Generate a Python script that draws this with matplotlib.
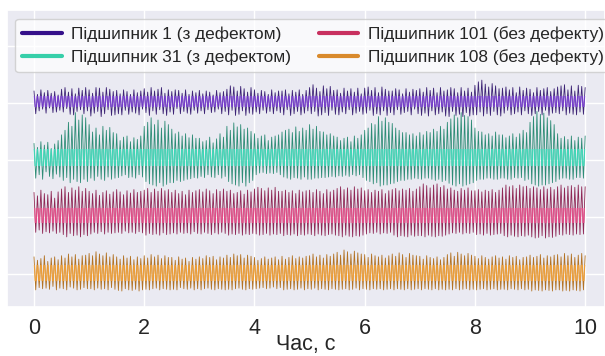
import numpy as np
import matplotlib
matplotlib.use("Agg")
import matplotlib.pyplot as plt
from matplotlib.lines import Line2D
from matplotlib.patches import Rectangle
import seaborn as sns

labels = ["Підшипник 1 (з дефектом)", "Підшипник 31 (з дефектом)",
          "Підшипник 101 (без дефекту)", "Підшипник 108 (без дефекту)"]

xticks = [0, 2, 4, 6, 8, 10]
duration = 10
unit = 0.01  # values below are in hundredths of one vertical grid step

bearing_1 = [
    18, -22, 12, -17, 20, -14, 15, -21, 19, -12, 14, -20, 17, -19, 11, -16,
    21, -19, 24, -13, 16, -23, 22, -24, 13, -18, 23, -15, 19, -22, 24, -17,
    20, -26, 14, -21, 24, -18, 23, -27, 16, -22, 24, -15, 21, -25, 17, -24,
    19, -22, 13, -24, 20, -16, 17, -23, 12, -19, 20, -21, 15, -24, 18, -14,
    22, -20, 16, -25, 24, -17, 18, -23, 21, -15, 24, -22, 14, -25, 20, -19,
    17, -23, 20, -13, 19, -22, 14, -18, 20, -21, 12, -23, 18, -16, 15, -21,
    19, -17, 13, -22, 18, -15, 16, -20, 11, -19, 19, -14, 15, -22, 17, -18,
    21, -24, 27, -16, 25, -25, 18, -23, 26, -17, 22, -25, 16, -21, 24, -23,
    20, -19, 14, -22, 19, -16, 17, -21, 12, -18, 20, -22, 15, -17, 18, -20,
    18, -24, 20, -15, 13, -25, 19, -22, 16, -18, 20, -24, 12, -21, 19, -17,
    24, -22, 29, -18, 23, -26, 17, -24, 27, -20, 22, -25, 26, -16, 19, -23,
    20, -24, 14, -19, 23, -22, 18, -15, 22, -24, 16, -21, 23, -18, 13, -23,
    23, -21, 25, -16, 19, -25, 24, -22, 15, -24, 25, -17, 21, -25, 18, -20,
    18, -24, 22, -15, 20, -23, 13, -20, 22, -18, 16, -24, 21, -14, 19, -22,
    22, -25, 16, -21, 24, -26, 19, -17, 23, -24, 15, -22, 24, -19, 18, -26,
    20, -27, 24, -18, 22, -25, 15, -23, 24, -27, 18, -20, 23, -26, 16, -24,
    28, -24, 34, -19, 37, -26, 30, -22, 25, -25, 31, -18, 27, -24, 22, -26,
    23, -21, 25, -16, 20, -24, 24, -22, 15, -19, 25, -24, 19, -17, 23, -22,
    21, -25, 15, -22, 24, -18, 19, -24, 22, -16, 24, -25, 17, -21, 22, -20,
    25, -22, 27, -17, 29, -24, 20, -21, 27, -23, 18, -24, 28, -19, 26, -23,
    24]

bearing_31 = [
    25, -36, 18, -30, 28, -38, 22, -25, 27, -33, 16, -37, 24, -29, 30, -34,
    40, -40, 48, -35, 62, -44, 55, -38, 79, -42, 66, -44, 75, -38, 70, -42,
    58, -36, 45, -40, 52, -33, 40, -38, 55, -40, 48, -34, 53, -38, 44, -36,
    42, -35, 30, -32, 36, -30, 38, -35, 28, -34, 35, -36, 32, -30, 38, -34,
    55, -42, 62, -46, 70, -48, 58, -50, 66, -44, 52, -50, 64, -47, 58, -44,
    50, -44, 42, -40, 45, -42, 38, -40, 42, -38, 35, -37, 40, -35, 34, -36,
    34, -33, 28, -35, 30, -30, 36, -34, 26, -35, 33, -30, 42, -36, 36, -33,
    55, -42, 48, -46, 61, -48, 54, -50, 58, -44, 50, -50, 52, -44, 46, -40,
    42, -30, 34, -27, 38, -26, 40, -28, 30, -27, 36, -28, 38, -26, 40, -30,
    45, -34, 48, -36, 50, -38, 44, -35, 54, -36, 46, -38, 52, -34, 48, -38,
    58, -38, 50, -36, 55, -36, 46, -35, 45, -35, 40, -34, 42, -33, 38, -34,
    36, -32, 30, -33, 34, -31, 36, -33, 28, -30, 38, -32, 34, -30, 40, -35,
    48, -40, 52, -42, 60, -46, 58, -44, 72, -50, 64, -48, 70, -48, 62, -46,
    60, -45, 52, -42, 48, -40, 44, -40, 44, -38, 40, -38, 42, -36, 38, -37,
    44, -38, 40, -36, 46, -36, 44, -38, 50, -40, 46, -38, 55, -42, 50, -40,
    62, -45, 68, -48, 75, -50, 70, -46, 79, -50, 74, -48, 72, -46, 66, -44,
    52, -40, 46, -38, 45, -38, 40, -36, 42, -36, 38, -38, 45, -38, 40, -36,
    40, -36, 35, -38, 38, -38, 42, -35, 36, -36, 42, -35, 48, -40, 44, -38,
    62, -46, 72, -48, 81, -50, 76, -48, 78, -48, 70, -46, 65, -44, 58, -42,
    42, -38, 34, -36, 37, -36, 32, -38, 38, -38, 30, -35, 36, -35, 34, -36,
    38]

bearing_101 = [
    40, -30, 34, -26, 44, -32, 38, -29, 36, -31, 42, -28, 30, -32, 41, -30,
    46, -34, 50, -38, 40, -32, 48, -36, 44, -35, 50, -38, 42, -34, 47, -36,
    42, -33, 38, -30, 44, -32, 35, -29, 40, -33, 43, -30, 37, -32, 41, -31,
    45, -30, 41, -32, 36, -28, 43, -31, 39, -30, 45, -32, 40, -29, 42, -31,
    44, -35, 47, -32, 40, -34, 46, -33, 42, -35, 47, -31, 43, -34, 45, -33,
    40, -31, 44, -33, 38, -30, 42, -32, 36, -31, 44, -33, 40, -29, 43, -32,
    45, -33, 41, -30, 46, -32, 43, -34, 38, -31, 45, -33, 42, -30, 46, -32,
    42, -35, 44, -33, 38, -34, 40, -32, 43, -35, 37, -33, 44, -34, 41, -32,
    46, -33, 49, -35, 47, -34, 43, -32, 48, -35, 44, -33, 49, -34, 42, -32,
    42, -36, 44, -34, 40, -35, 43, -33, 38, -36, 44, -34, 41, -35, 43, -33,
    44, -34, 40, -36, 45, -33, 42, -35, 38, -36, 45, -34, 41, -33, 44, -35,
    47, -36, 50, -38, 45, -35, 48, -37, 44, -38, 50, -36, 46, -37, 48, -35,
    43, -33, 45, -31, 40, -32, 44, -30, 42, -33, 45, -31, 38, -32, 43, -30,
    45, -35, 47, -38, 43, -36, 46, -37, 44, -38, 47, -35, 42, -37, 46, -36,
    50, -36, 55, -38, 52, -35, 48, -37, 53, -38, 55, -36, 49, -37, 52, -35,
    46, -33, 48, -31, 44, -32, 42, -30, 47, -33, 44, -31, 48, -32, 43, -30,
    43, -34, 45, -33, 41, -35, 44, -32, 42, -35, 45, -34, 40, -33, 44, -32,
    48, -36, 53, -38, 50, -35, 52, -37, 47, -38, 53, -36, 50, -37, 51, -35,
    47, -38, 50, -40, 48, -39, 45, -36, 50, -40, 46, -38, 49, -39, 45, -37,
    50, -34, 53, -35, 48, -33, 51, -34, 52, -35, 49, -33, 53, -34, 50, -33,
    50]

bearing_108 = [
    28, -30, 22, -26, 25, -28, 30, -27, 20, -29, 26, -24, 28, -30, 23, -27,
    30, -28, 26, -30, 33, -25, 28, -27, 32, -30, 24, -29, 30, -26, 31, -28,
    34, -28, 30, -30, 37, -27, 33, -29, 30, -28, 35, -30, 28, -26, 32, -29,
    28, -31, 24, -32, 30, -28, 26, -30, 29, -31, 23, -29, 28, -32, 25, -30,
    30, -29, 26, -30, 32, -28, 28, -27, 31, -30, 25, -28, 30, -29, 27, -30,
    27, -29, 22, -30, 28, -26, 24, -28, 26, -29, 20, -27, 27, -30, 24, -28,
    28, -30, 25, -28, 30, -27, 27, -29, 29, -30, 23, -28, 28, -29, 26, -30,
    31, -29, 27, -30, 33, -28, 30, -27, 32, -29, 26, -30, 31, -28, 29, -29,
    27, -28, 22, -27, 25, -26, 28, -28, 24, -27, 26, -25, 28, -28, 23, -26,
    29, -30, 24, -29, 27, -28, 30, -30, 25, -29, 28, -27, 26, -30, 29, -28,
    30, -29, 33, -27, 28, -30, 31, -28, 26, -29, 32, -30, 29, -28, 33, -29,
    36, -30, 31, -29, 40, -28, 37, -30, 33, -29, 38, -27, 35, -30, 33, -28,
    32, -29, 27, -30, 33, -28, 30, -29, 28, -28, 31, -30, 26, -29, 30, -28,
    33, -30, 29, -28, 35, -29, 32, -30, 27, -28, 34, -30, 31, -29, 30, -28,
    29, -30, 24, -28, 30, -29, 27, -30, 25, -28, 28, -30, 23, -29, 27, -30,
    32, -29, 35, -30, 29, -28, 36, -30, 33, -29, 30, -28, 34, -30, 31, -29,
    29, -30, 25, -29, 30, -28, 27, -30, 24, -29, 28, -28, 30, -30, 26, -29,
    28, -29, 24, -30, 30, -28, 27, -29, 29, -30, 23, -28, 27, -30, 28, -29,
    31, -32, 27, -30, 29, -31, 32, -32, 26, -30, 30, -31, 28, -32, 31, -30,
    32, -30, 28, -32, 34, -31, 30, -32, 33, -30, 27, -31, 31, -32, 34, -30,
    30]

series = [bearing_1, bearing_31, bearing_101, bearing_108]
offsets = [3.03, 2.04, 1.03, 0.02]
core_half = [0.10, 0.15, 0.13, 0.14]
legend_colors = ["#35108a", "#36cfa9", "#c8305f", "#d98a2c"]
dark_colors = ["#33186e", "#23876f", "#8a1c4c", "#b06c18"]
light_colors = ["#7d3fd8", "#3fe3c0", "#ef4f8c", "#f5a236"]

sns.set_theme(style="darkgrid")
plt.rcParams["font.family"] = ["Liberation Sans", "DejaVu Sans"]

fig = plt.figure(figsize=(6.05, 3.56), dpi=100)
ax = fig.add_axes([7 / 605, 1 - 307 / 356, 1 - 7 / 605, 297 / 356])

for vals, off, dc, lc, ch in zip(series, offsets, dark_colors, light_colors, core_half):
    v = np.asarray(vals) * unit
    t = np.linspace(0, duration, len(v))
    ax.plot(t, off + v, color=dc, lw=0.6, alpha=0.95)
    core, = ax.plot(t, off + v, color=lc, lw=0.9, alpha=0.8)
    clip = Rectangle((-1, off - ch), 12, 2 * ch, transform=ax.transData)
    core.set_clip_path(clip)

ax.set_xlim(-0.49, 10.36)
ax.set_ylim(-0.58, 4.63)
ax.set_yticks([0, 1, 2, 3, 4])
ax.set_yticklabels([])
ax.tick_params(axis="y", length=0)
ax.set_xticks(xticks)
ax.set_xticklabels([str(x) for x in xticks], fontsize=15.5)
ax.tick_params(axis="x", pad=2)
ax.set_xlabel("Час, с", fontsize=15.5, labelpad=-4)

handles = [Line2D([0], [0], color=c, lw=3) for c in legend_colors]
leg = ax.legend(handles, labels, loc="upper left", bbox_to_anchor=(0.0135, 0.97),
                ncol=2, fontsize=12.4, frameon=True, facecolor="white",
                framealpha=0.75, edgecolor="#c8c8c8", handlelength=2.3,
                columnspacing=1.6, borderaxespad=0, handletextpad=0.55,
                labelspacing=0.45, borderpad=0.4)

fig.savefig("out.png", dpi=100)
